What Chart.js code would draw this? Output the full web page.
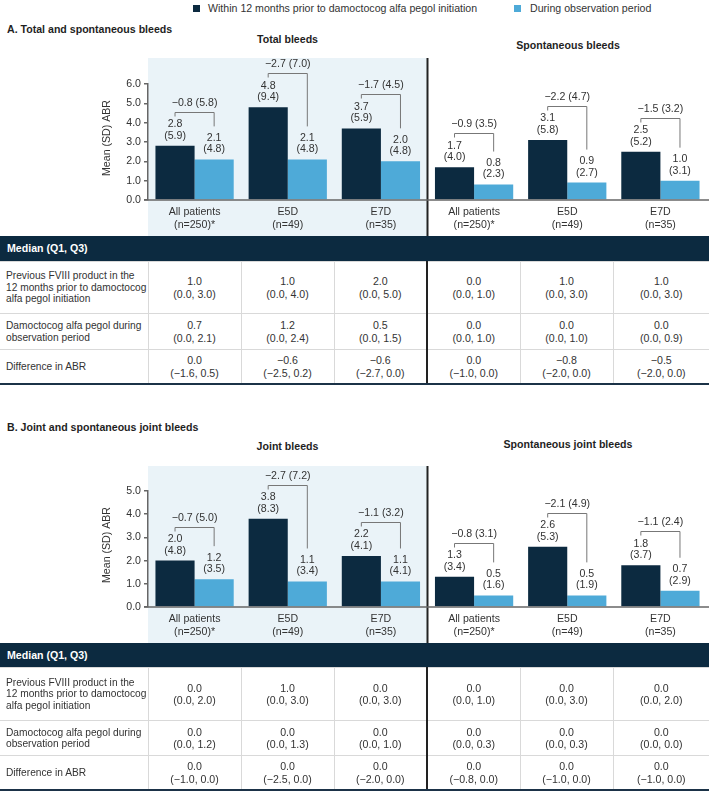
<!DOCTYPE html>
<html>
<head>
<meta charset="utf-8">
<script src="https://cdn.jsdelivr.net/npm/chart.js@4.4.0/dist/chart.umd.min.js"></script>
<style>
  body { margin: 0; background: #fff; }
  #page { position: relative; width: 709px; height: 792px; overflow: hidden;
          font-family: 'Liberation Sans', Arial, sans-serif; font-size: 10.6px; color: #333; }
  .txt { position: absolute; white-space: nowrap; line-height: 12px; }
  .head { font-weight: bold; color: #1f1f1f; }
  .ctr { text-align: center; }
  .sq { position: absolute; width: 7px; height: 7px; }
  .wrap { position: absolute; left: 0; width: 709px; height: 186px; }
  table { position: absolute; left: 0; width: 709px; border-collapse: collapse; table-layout: fixed;
          font-size: 10.6px; color: #333; }
  td { border: 1px solid #d9d9d9; text-align: center; vertical-align: middle; padding: 0; line-height: 12.3px;
       white-space: nowrap; overflow: hidden; }
  td.lab { text-align: left; padding-left: 6px; font-size: 10.2px; line-height: 11.5px; border-left: none; }
  td.last { border-right: none; }
  td.split { border-left: 2px solid #222; }
  tr.band td { background: #0c2a40; color: #fff; font-weight: bold; text-align: left; padding-left: 7px; border: none; }
  tr.end td { border-bottom: 2px solid #1b3247; }
</style>
</head>
<body>
<div id="page">
  <div class="sq" style="left:193px; top:5px; background:#0c2a40"></div>
  <div class="txt" style="left:208px; top:2px">Within 12 months prior to damoctocog alfa pegol initiation</div>
  <div class="sq" style="left:514px; top:5px; background:#4eaad8"></div>
  <div class="txt" style="left:530px; top:2px">During observation period</div>

  <div class="txt head" style="left:7px; top:23px">A. Total and spontaneous bleeds</div>
  <div class="txt head ctr" style="left:148px; width:279px; top:33px">Total bleeds</div>
  <div class="txt head ctr" style="left:427px; width:282px; top:39px">Spontaneous bleeds</div>
  <div class="wrap" style="top:50px"><canvas id="chartA" width="709" height="186"></canvas></div>
  <table id="tableA" style="top:236px"></table>

  <div class="txt head" style="left:7px; top:421px">B. Joint and spontaneous joint bleeds</div>
  <div class="txt head ctr" style="left:148px; width:279px; top:440px">Joint bleeds</div>
  <div class="txt head ctr" style="left:427px; width:282px; top:438px">Spontaneous joint bleeds</div>
  <div class="wrap" style="top:458px"><canvas id="chartB" width="709" height="186"></canvas></div>
  <table id="tableB" style="top:643px"></table>
</div>

<script>
// categories (same for both panels)
const categories = [['All patients', '(n=250)*'], ['E5D', '(n=49)'], ['E7D', '(n=35)'],
                    ['All patients', '(n=250)*'], ['E5D', '(n=49)'], ['E7D', '(n=35)']];

// A. total (first 3) and spontaneous (last 3) bleeds, mean and SD
const totalPrior   = [2.8, 4.8, 3.7, 1.7, 3.1, 2.5];
const totalPriorSD = [5.9, 9.4, 5.9, 4.0, 5.8, 5.2];
const totalObs     = [2.1, 2.1, 2.0, 0.8, 0.9, 1.0];
const totalObsSD   = [4.8, 4.8, 4.8, 2.3, 2.7, 3.1];
const totalDiff    = [-0.8, -2.7, -1.7, -0.9, -2.2, -1.5];
const totalDiffSD  = [5.8, 7.0, 4.5, 3.5, 4.7, 3.2];

// B. joint and spontaneous joint bleeds
const jointPrior   = [2.0, 3.8, 2.2, 1.3, 2.6, 1.8];
const jointPriorSD = [4.8, 8.3, 4.1, 3.4, 5.3, 3.7];
const jointObs     = [1.2, 1.1, 1.1, 0.5, 0.5, 0.7];
const jointObsSD   = [3.5, 3.4, 4.1, 1.6, 1.9, 2.9];
const jointDiff    = [-0.7, -2.7, -1.1, -0.8, -2.1, -1.1];
const jointDiffSD  = [5.0, 7.2, 3.2, 3.1, 4.9, 2.4];

const yTicksA = [0, 1, 2, 3, 4, 5, 6];
const yTicksB = [0, 1, 2, 3, 4, 5];

// median (Q1, Q3) tables
const rowLabels = ['Previous FVIII product in the<br>12 months prior to damoctocog<br>alfa pegol initiation',
                   'Damoctocog alfa pegol during<br>observation period',
                   'Difference in ABR'];
const medTotalPrior = [[1.0, 0.0, 3.0], [1.0, 0.0, 4.0], [2.0, 0.0, 5.0], [0.0, 0.0, 1.0], [1.0, 0.0, 3.0], [1.0, 0.0, 3.0]];
const medTotalObs   = [[0.7, 0.0, 2.1], [1.2, 0.0, 2.4], [0.5, 0.0, 1.5], [0.0, 0.0, 1.0], [0.0, 0.0, 1.0], [0.0, 0.0, 0.9]];
const medTotalDiff  = [[0.0, -1.6, 0.5], [-0.6, -2.5, 0.2], [-0.6, -2.7, 0.0], [0.0, -1.0, 0.0], [-0.8, -2.0, 0.0], [-0.5, -2.0, 0.0]];
const medJointPrior = [[0.0, 0.0, 2.0], [1.0, 0.0, 3.0], [0.0, 0.0, 3.0], [0.0, 0.0, 1.0], [0.0, 0.0, 3.0], [0.0, 0.0, 2.0]];
const medJointObs   = [[0.0, 0.0, 1.2], [0.0, 0.0, 1.3], [0.0, 0.0, 1.0], [0.0, 0.0, 0.3], [0.0, 0.0, 0.3], [0.0, 0.0, 0.0]];
const medJointDiff  = [[0.0, -1.0, 0.0], [0.0, -2.5, 0.0], [0.0, -2.0, 0.0], [0.0, -0.8, 0.0], [0.0, -1.0, 0.0], [0.0, -1.0, 0.0]];

const FONT = "'Liberation Sans', Arial, sans-serif";
const DARK = '#0c2a40', LIGHT = '#4eaad8';
const fmt = v => (v < 0 ? '\u2212' : '') + Math.abs(v).toFixed(1);

function bleedChart(id, yTicks, padTop, xHeight, prior, priorSD, obs, obsSD, diff, diffSD) {
    const panel = {
        id: 'panel',
        beforeDraw(chart) {
            const { ctx, chartArea, scales: { x } } = chart;
            const divX = (x.getPixelForValue(2) + x.getPixelForValue(3)) / 2;
            ctx.save();
            ctx.fillStyle = '#eaf3f8';
            ctx.fillRect(chartArea.left, 8, divX - chartArea.left, chart.height - 8);
            ctx.restore();
        },
        afterDraw(chart) {
            const { ctx, chartArea: ca, scales: { x } } = chart;
            const divX = (x.getPixelForValue(2) + x.getPixelForValue(3)) / 2;
            ctx.save();
            // divider between the two groups
            ctx.strokeStyle = '#222'; ctx.lineWidth = 2;
            ctx.beginPath(); ctx.moveTo(divX, 8); ctx.lineTo(divX, chart.height); ctx.stroke();
            // baseline running to the right edge
            ctx.strokeStyle = '#666'; ctx.lineWidth = 1.5;
            ctx.beginPath(); ctx.moveTo(ca.left - 4, ca.bottom); ctx.lineTo(chart.width, ca.bottom); ctx.stroke();

            ctx.fillStyle = '#333';
            ctx.font = '10.6px ' + FONT;
            ctx.textAlign = 'center';
            ctx.textBaseline = 'middle';
            ctx.save();
            ctx.translate(107, (ca.top + ca.bottom) / 2 - 4);
            ctx.rotate(-Math.PI / 2);
            ctx.fillText('Mean (SD) ABR', 0, 0);
            ctx.restore();

            const m0 = chart.getDatasetMeta(0).data, m1 = chart.getDatasetMeta(1).data;
            m0.forEach((b0, i) => {
                const b1 = m1[i];
                [[b0, prior[i], priorSD[i]], [b1, obs[i], obsSD[i]]].forEach(([b, v, sd]) => {
                    ctx.fillText(fmt(v), b.x, b.y - 21.5);
                    ctx.fillText('(' + sd.toFixed(1) + ')', b.x, b.y - 10);
                });
                // difference bracket
                const yb = Math.round(b0.y - 34) + 0.5;
                ctx.strokeStyle = '#777'; ctx.lineWidth = 1;
                ctx.beginPath();
                ctx.moveTo(b0.x, yb + 4); ctx.lineTo(b0.x, yb);
                ctx.lineTo(b1.x, yb); ctx.lineTo(b1.x, b1.y - 33);
                ctx.stroke();
                ctx.fillText(fmt(diff[i]) + ' (' + diffSD[i].toFixed(1) + ')', (b0.x + b1.x) / 2, yb - 9.5);
            });
            ctx.restore();
        }
    };

    return new Chart(document.getElementById(id), {
        type: 'bar',
        data: {
            labels: categories,
            datasets: [
                { data: prior, backgroundColor: DARK, categoryPercentage: 0.84, barPercentage: 1 },
                { data: obs, backgroundColor: LIGHT, categoryPercentage: 0.84, barPercentage: 1 }
            ]
        },
        options: {
            responsive: false,
            animation: false,
            devicePixelRatio: 1,
            layout: { padding: { left: 0, right: 2, top: padTop, bottom: 0 } },
            plugins: { legend: { display: false }, tooltip: { enabled: false } },
            scales: {
                x: {
                    grid: { display: false, drawTicks: false },
                    border: { display: false },
                    ticks: { color: '#333', font: { size: 10.6, family: FONT, lineHeight: 1.25 },
                             padding: 5, maxRotation: 0, autoSkip: false },
                    afterFit: s => { s.height = xHeight; }
                },
                y: {
                    min: yTicks[0], max: yTicks[yTicks.length - 1],
                    afterBuildTicks: s => { s.ticks = yTicks.map(v => ({ value: v })); },
                    ticks: { color: '#333', font: { size: 10.6, family: FONT }, padding: 3,
                             callback: v => v.toFixed(1) },
                    grid: { drawOnChartArea: false, drawTicks: true, tickLength: 4, color: '#666', lineWidth: 1.5 },
                    border: { display: true, color: '#666', width: 1.5 },
                    afterFit: s => { s.width = 148; }
                }
            }
        },
        plugins: [panel]
    });
}

function fillTable(id, rows, heights) {
    const cell = q => fmt(q[0]) + '<br>(' + fmt(q[1]) + ', ' + fmt(q[2]) + ')';
    let html = '<colgroup><col style="width:148px">' +
        '<col style="width:93px"><col style="width:93px"><col style="width:93px">' +
        '<col style="width:93px"><col style="width:93px"><col style="width:96px"></colgroup>';
    html += `<tr class="band"><td colspan="7" style="height:${heights[0]}px">Median (Q1, Q3)</td></tr>`;
    rows.forEach((r, k) => {
        html += `<tr${k === rows.length - 1 ? ' class="end"' : ''}><td class="lab" style="height:${heights[k + 1]}px">${rowLabels[k]}</td>`;
        r.forEach((q, i) => {
            const cls = i === 3 ? 'split' : (i === 5 ? 'last' : '');
            html += `<td class="${cls}">${cell(q)}</td>`;
        });
        html += '</tr>';
    });
    document.getElementById(id).innerHTML = html;
}

bleedChart('chartA', yTicksA, 34, 36, totalPrior, totalPriorSD, totalObs, totalObsSD, totalDiff, totalDiffSD);
bleedChart('chartB', yTicksB, 33, 37, jointPrior, jointPriorSD, jointObs, jointObsSD, jointDiff, jointDiffSD);
fillTable('tableA', [medTotalPrior, medTotalObs, medTotalDiff], [25, 51, 35, 33]);
fillTable('tableB', [medJointPrior, medJointObs, medJointDiff], [24, 52, 34, 33]);
</script>
</body>
</html>
